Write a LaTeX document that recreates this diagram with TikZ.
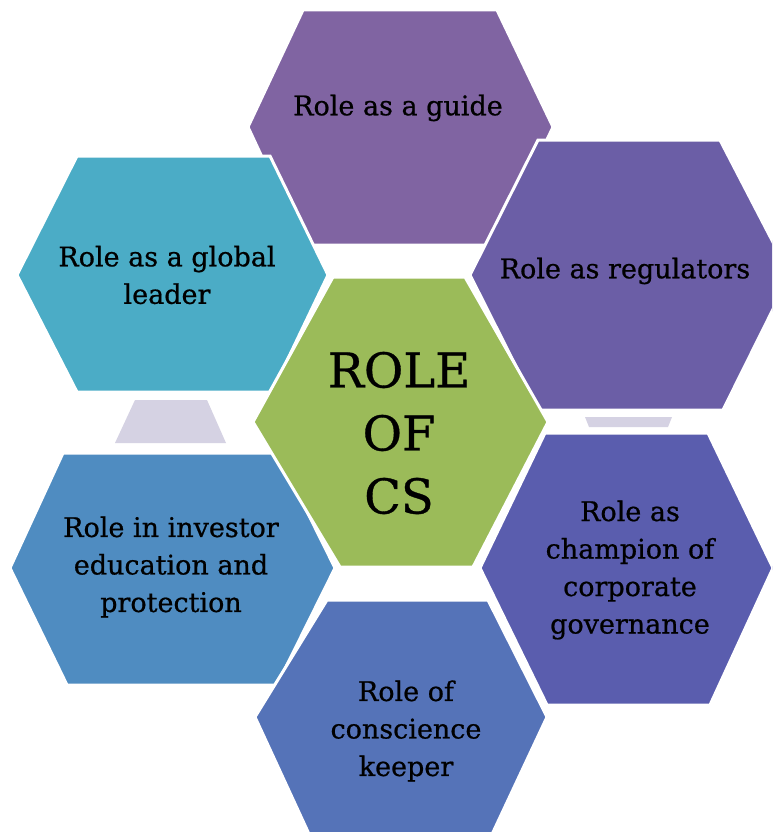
\documentclass[tikz,border=0pt]{standalone}
\usepackage{fontspec}
\setmainfont[FakeBold=0.6]{DejaVu Serif}
\newfontfamily\lblfont[FakeBold=0.7]{DejaVu Serif}
\definecolor{cguide}{HTML}{8064A2}
\definecolor{cglobal}{HTML}{4BACC6}
\definecolor{creg}{HTML}{6B5EA6}
\definecolor{cchamp}{HTML}{5A5DAE}
\definecolor{ccons}{HTML}{5573B8}
\definecolor{cinv}{HTML}{4F8CC1}
\definecolor{ccenter}{HTML}{9BBB59}
\definecolor{cghost}{HTML}{D5D2E3}
\tikzset{
  hexfill/.style={fill=#1, draw=white, line width=3pt, line join=miter},
  ghost/.style={fill=cghost, draw=none},
  lbl/.style={align=center, font=\lblfont\fontsize{27}{37.5}\selectfont, inner sep=0pt, text=black},
  biglbl/.style={align=center, font=\lblfont\fontsize{48}{63}\selectfont, inner sep=0pt, text=black}
}
\begin{document}
\begin{tikzpicture}[x=1pt,y=-1pt]
\useasboundingbox (0,0) rectangle (772,832);
\clip (0,0) rectangle (772,832);
\fill[white] (0,0) rectangle (772,832);
% ghost shapes
\path[ghost] (135,400) -- (207,400) -- (226,443) -- (115,443) -- cycle;
\path[ghost] (585,417) -- (672,417) -- (668,427) -- (589,427) -- cycle;
% hexagons
\path[hexfill=cguide] (303,10) -- (497,10) -- (553,127) -- (497,245) -- (303,245) -- (248,127) -- cycle;
\path[hexfill=cglobal] (77,156) -- (270,156) -- (328,275) -- (272,392) -- (77,392) -- (17,275) -- cycle;
\path[hexfill=creg] (538,140) -- (720,140) -- (790,275) -- (723,410) -- (538,410) -- (470,275) -- cycle;
\path[hexfill=cinv] (63,453) -- (278,453) -- (335,568) -- (277,685) -- (67,685) -- (10,568) -- cycle;
\path[hexfill=cchamp] (545,433) -- (708,433) -- (773,568) -- (710,705) -- (547,705) -- (480,568) -- cycle;
\path[hexfill=ccons] (327,600) -- (488,600) -- (547,717) -- (480,860) -- (321,860) -- (255,717) -- cycle;
\path[hexfill=ccenter] (333,277) -- (465,277) -- (548,422) -- (473,567) -- (340,567) -- (253,422) -- cycle;
% labels
\node[lbl] (guide) at (398,108) {Role as a guide};
\node[lbl] (global) at (167,275) {Role as a global\\leader};
\node[lbl] (reg) at (625,271) {Role as regulators};
\node[biglbl] (center) at (399,433) {ROLE\\OF\\CS};
\node[lbl] (inv) at (171,567) {Role in investor\\education and\\protection};
\node[lbl] (champ) at (630,570) {Role as\\champion of\\corporate\\governance};
\node[lbl] (cons) at (406,731) {Role of\\conscience\\keeper};
\end{tikzpicture}
\end{document}
